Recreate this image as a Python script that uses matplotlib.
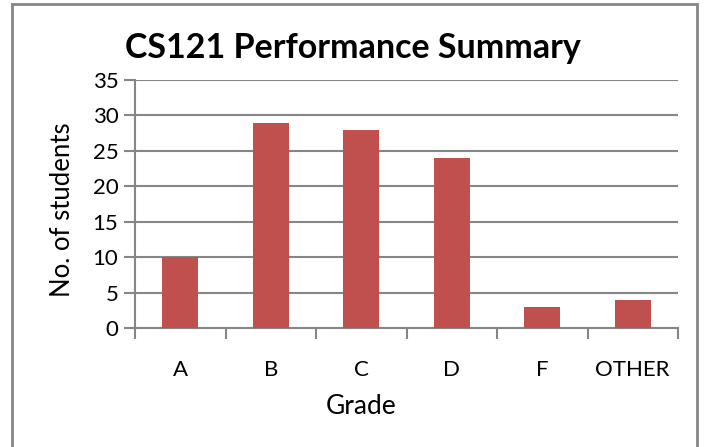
import matplotlib
matplotlib.use('Agg')
import matplotlib.pyplot as plt
from matplotlib.patches import Rectangle

# data
grades = ['A', 'B', 'C', 'D', 'F', 'OTHER']
students = [10, 29, 28, 24, 3, 4]

bar_color = '#C0504D'
grid_color = '#868686'

plt.rcParams['font.family'] = ['Lato', 'DejaVu Sans']

W, H = 704, 447
fig = plt.figure(figsize=(W / 100, H / 100), dpi=100)

# plot area in pixels: x 135..678, y 80..328
ax = fig.add_axes([135 / W, 1 - 328 / H, (678 - 135) / W, (328 - 80) / H])

x = range(len(grades))
ax.bar(x, students, width=0.4, color=bar_color, zorder=3)

ax.set_xlim(-0.5, len(grades) - 0.5)
ax.set_ylim(0, 35)
ax.set_yticks(range(0, 36, 5))
ax.yaxis.grid(True, color=grid_color, linewidth=1.5, zorder=0)

# category labels, ticks between categories
ax.set_xticks([i + 0.5 for i in range(-1, len(grades))])
ax.set_xticklabels([])
ax.tick_params(axis='x', direction='out', length=8, width=1.5, color=grid_color)
for i, g in enumerate(grades):
    ax.text(i, -5.9, g, ha='center', va='center', fontsize=16)

ax.tick_params(axis='y', direction='out', length=8, width=1.5,
               color=grid_color, labelsize=16, pad=4)

for side in ['top', 'right']:
    ax.spines[side].set_visible(False)
for side in ['left', 'bottom']:
    ax.spines[side].set_color(grid_color)
    ax.spines[side].set_linewidth(1.5)

fig.text(353 / W, 1 - 48 / H, 'CS121 Performance Summary', ha='center',
         va='center', fontsize=24.5, fontweight='bold')
fig.text(63 / W, 1 - 210 / H, 'No. of students', ha='center', va='center',
         rotation=90, fontsize=18.5)
fig.text(361 / W, 1 - 407 / H, 'Grade', ha='center', va='center', fontsize=19)

# chart border (bottom edge runs off the picture)
fig.patches.append(Rectangle((12 / W, -0.05), (697 - 12) / W, 1.05 - 4 / H,
                             transform=fig.transFigure, fill=False,
                             edgecolor=grid_color, linewidth=2))

fig.savefig('out.png', dpi=100)
